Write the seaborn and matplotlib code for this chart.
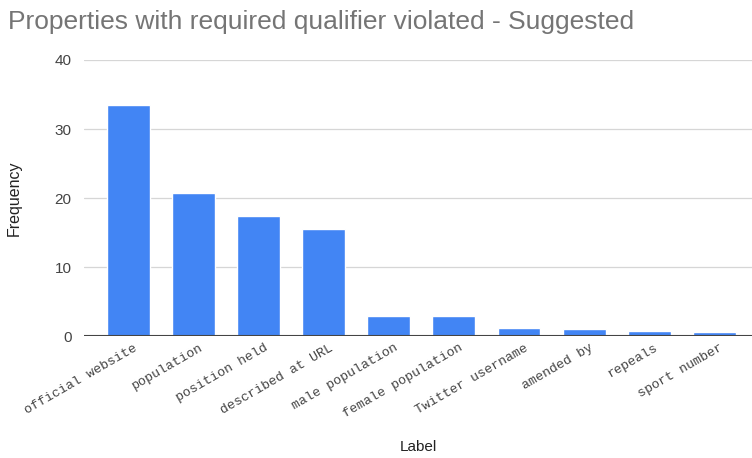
import seaborn as sns
import pandas as pd
import matplotlib.pyplot as plt

# Data
labels = ["official website", "population", "position held", "described at URL",
          "male population", "female population", "Twitter username",
          "amended by", "repeals", "sport number"]
frequency = [33.5, 20.7, 17.4, 15.5, 2.9, 2.9, 1.2, 1.0, 0.8, 0.6]
y_ticks = [0, 10, 20, 30, 40]

df = pd.DataFrame({"Label": labels, "Frequency": frequency})

sns.set_style("white")
plt.rcParams['font.family'] = ['Liberation Sans', 'DejaVu Sans']

fig = plt.figure(figsize=(7.52, 4.58), dpi=100)
ax = fig.add_axes([0.112, 0.266, 0.888, 0.603])

sns.barplot(data=df, x="Label", y="Frequency", color="#4285F4", width=0.66,
            saturation=1, ax=ax, zorder=3)

ax.set_ylim(0, 40)
ax.set_xlim(-0.68, 9.58)
ax.set_yticks(y_ticks)
ax.grid(axis="y", color="#d6d6d6", linewidth=0.9, zorder=0)
ax.axhline(0, color="#444444", linewidth=1.5, zorder=4)
for s in ax.spines.values():
    s.set_visible(False)

ax.tick_params(axis="y", length=0, pad=9, labelsize=11, labelcolor="#444444")
ax.tick_params(axis="x", length=0, pad=4)
ax.set_xticks([i + 0.08 for i in range(len(labels))])
ax.set_xticklabels(labels, rotation=30, ha="right", rotation_mode="anchor",
                   family="Liberation Mono", fontsize=9.5, color="#444444")

ax.set_ylabel("Frequency", fontsize=11.5, color="#222222", labelpad=24)
ax.set_xlabel("Label", fontsize=11, color="#222222", labelpad=14)

fig.text(0.01, 0.953, "Properties with required qualifier violated - Suggested",
         fontsize=19, color="#757575", va="center", ha="left")

fig.savefig("out.png", dpi=100)
